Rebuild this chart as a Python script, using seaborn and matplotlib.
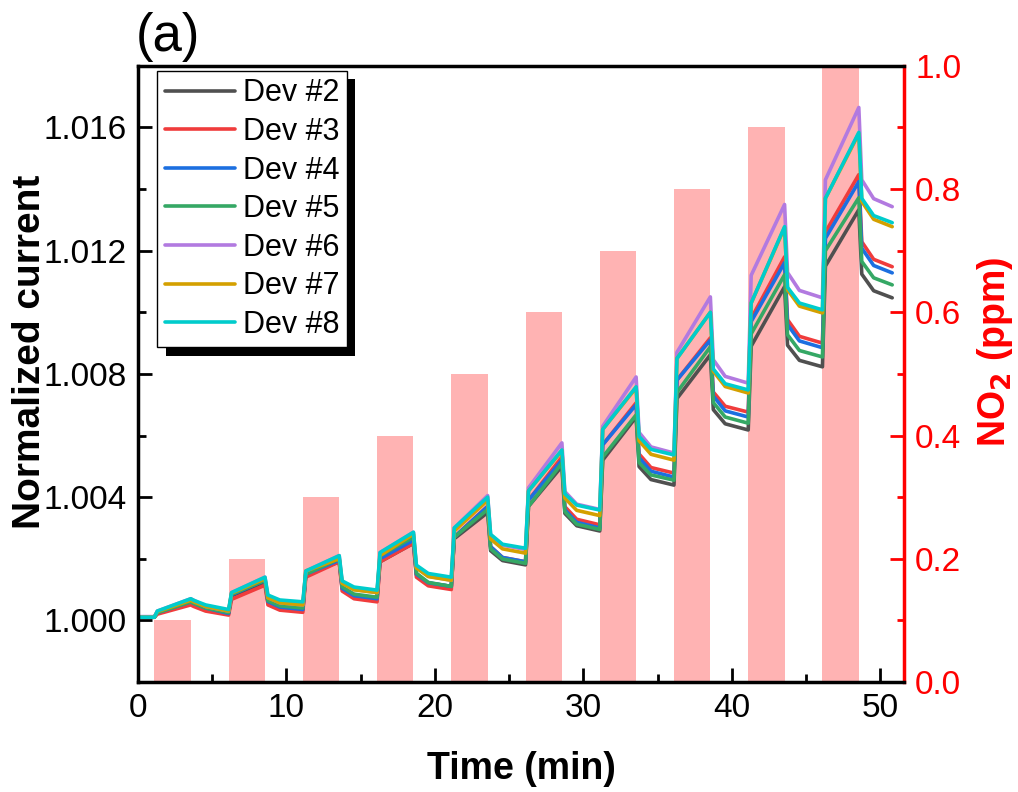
import numpy as np
import pandas as pd
import matplotlib
matplotlib.use("Agg")
import matplotlib.pyplot as plt
import matplotlib.patheffects as pe
from matplotlib.ticker import MultipleLocator, FormatStrFormatter
import seaborn as sns

# NO2 pulses: start / end of each exposure (min) and concentration (ppm)
expo_start = [1.1, 6.1, 11.1, 16.1, 21.1, 26.1, 31.1, 36.1, 41.1, 46.1]
expo_end = [3.55, 8.55, 13.55, 18.55, 23.55, 28.55, 33.55, 38.55, 43.55, 48.55]
no2_ppm = [0.1, 0.2, 0.3, 0.4, 0.5, 0.6, 0.7, 0.8, 0.9, 1.0]
t_last = 50.8

devices = ["Dev #2", "Dev #3", "Dev #4", "Dev #5", "Dev #6", "Dev #7", "Dev #8"]
colors = ["#505050", "#f03c3c", "#1c6fe0", "#35a865", "#b27ae0", "#d4a000", "#00cccc"]

# baseline before each pulse (+ value at the end of the run)
base = {
    "Dev #2": [1.0001, 1.00022, 1.00035, 1.0007, 1.0011, 1.0018, 1.0029, 1.00439, 1.00618, 1.00823, 1.01047],
    "Dev #3": [1.0001, 1.00017, 1.00026, 1.0006, 1.0010, 1.0019, 1.0031, 1.00478, 1.00676, 1.0090, 1.01148],
    "Dev #4": [1.0001, 1.00022, 1.00035, 1.0007, 1.0011, 1.0019, 1.0030, 1.00465, 1.0066, 1.00885, 1.01128],
    "Dev #5": [1.0001, 1.00025, 1.0004, 1.00075, 1.0011, 1.00185, 1.00295, 1.00455, 1.0064, 1.00855, 1.01089],
    "Dev #6": [1.00012, 1.0003, 1.0005, 1.0009, 1.0013, 1.0023, 1.0036, 1.00543, 1.0077, 1.01047, 1.01343],
    "Dev #7": [1.0001, 1.0003, 1.0005, 1.0009, 1.0013, 1.00218, 1.0034, 1.0052, 1.00738, 1.00998, 1.01278],
    "Dev #8": [1.0001, 1.00035, 1.0006, 1.00098, 1.0014, 1.00234, 1.00358, 1.00537, 1.00748, 1.01008, 1.01291],
}
# value just after the fast rise
jump = {
    "Dev #2": [1.00025, 1.0008, 1.0015, 1.0019, 1.00265, 1.0037, 1.0052, 1.0072, 1.0089, 1.0115],
    "Dev #3": [1.0002, 1.00068, 1.0014, 1.0019, 1.0027, 1.0039, 1.0057, 1.0078, 1.0098, 1.0126],
    "Dev #4": [1.00025, 1.00083, 1.0015, 1.0020, 1.0027, 1.0039, 1.0057, 1.0078, 1.0097, 1.0124],
    "Dev #5": [1.00025, 1.00085, 1.0015, 1.0021, 1.0027, 1.0037, 1.0053, 1.0074, 1.0093, 1.0120],
    "Dev #6": [1.0003, 1.0009, 1.0016, 1.0022, 1.0030, 1.0043, 1.0063, 1.0087, 1.0112, 1.0143],
    "Dev #7": [1.00028, 1.00088, 1.0016, 1.0021, 1.0029, 1.0042, 1.0062, 1.0085, 1.0103, 1.0137],
    "Dev #8": [1.0003, 1.0009, 1.0016, 1.0022, 1.0030, 1.0042, 1.0062, 1.0085, 1.0103, 1.0137],
}
# value at the end of each pulse
peak = {
    "Dev #2": [1.0006, 1.0012, 1.0019, 1.0025, 1.0035, 1.0050, 1.0066, 1.00862, 1.01083, 1.01333],
    "Dev #3": [1.0005, 1.00114, 1.0019, 1.0025, 1.0037, 1.0053, 1.00706, 1.00917, 1.0118, 1.01447],
    "Dev #4": [1.0006, 1.0013, 1.00195, 1.0026, 1.0037, 1.0052, 1.0070, 1.0091, 1.01161, 1.01424],
    "Dev #5": [1.0006, 1.0013, 1.0020, 1.0027, 1.0036, 1.0051, 1.00667, 1.00888, 1.01122, 1.01372],
    "Dev #6": [1.0007, 1.0014, 1.0021, 1.00286, 1.00405, 1.00576, 1.0079, 1.0105, 1.0135, 1.01665],
    "Dev #7": [1.00065, 1.00135, 1.0020, 1.0028, 1.0039, 1.0055, 1.00755, 1.0100, 1.01275, 1.0158],
    "Dev #8": [1.0007, 1.0014, 1.0021, 1.00286, 1.0040, 1.00553, 1.00758, 1.0100, 1.01278, 1.01584],
}
# value shortly after the gas is switched off
drop = {
    "Dev #2": [1.00055, 1.00058, 1.00102, 1.00148, 1.00226, 1.00347, 1.00499, 1.00684, 1.00893, 1.01124],
    "Dev #3": [1.00045, 1.0005, 1.00095, 1.0014, 1.00239, 1.00369, 1.0054, 1.00741, 1.00976, 1.01229],
    "Dev #4": [1.00055, 1.00061, 1.00104, 1.0015, 1.00239, 1.00359, 1.00528, 1.00728, 1.0096, 1.01208],
    "Dev #5": [1.00055, 1.00064, 1.00109, 1.00153, 1.00232, 1.00353, 1.00512, 1.00707, 1.00927, 1.01165],
    "Dev #6": [1.00065, 1.00074, 1.00122, 1.00172, 1.00277, 1.00418, 1.0061, 1.00846, 1.01129, 1.0143],
    "Dev #7": [1.0006, 1.00073, 1.0012, 1.0017, 1.00264, 1.00397, 1.00583, 1.00809, 1.01073, 1.0136],
    "Dev #8": [1.00065, 1.00082, 1.00128, 1.00179, 1.00279, 1.00411, 1.00597, 1.00816, 1.01081, 1.0137],
}
# value ~1 min after the gas is switched off
tail = {
    "Dev #2": [1.0004, 1.00042, 1.0008, 1.00121, 1.00194, 1.00307, 1.00457, 1.00638, 1.00844, 1.0107],
    "Dev #3": [1.0003, 1.00033, 1.0007, 1.00112, 1.00204, 1.00328, 1.00496, 1.00695, 1.00922, 1.01172],
    "Dev #4": [1.0004, 1.00043, 1.0008, 1.00122, 1.00204, 1.00318, 1.00484, 1.0068, 1.00907, 1.01152],
    "Dev #5": [1.0004, 1.00047, 1.00085, 1.00123, 1.00199, 1.00312, 1.00472, 1.0066, 1.00876, 1.01112],
    "Dev #6": [1.00045, 1.00057, 1.001, 1.00143, 1.00244, 1.00377, 1.00563, 1.00792, 1.01071, 1.01369],
    "Dev #7": [1.00045, 1.00057, 1.00099, 1.00142, 1.00232, 1.00357, 1.00539, 1.00759, 1.0102, 1.01302],
    "Dev #8": [1.0005, 1.00066, 1.00108, 1.00152, 1.00247, 1.00374, 1.00555, 1.00768, 1.0103, 1.01314],
}

rows = []
for dev in devices:
    rows.append((dev, 0.0, base[dev][0]))
    for k in range(len(expo_start)):
        ts, te = expo_start[k], expo_end[k]
        rows.append((dev, ts, base[dev][k]))
        rows.append((dev, ts + 0.2, jump[dev][k]))
        rows.append((dev, te, peak[dev][k]))
        rows.append((dev, te + 0.2, drop[dev][k]))
        rows.append((dev, te + 1.0, tail[dev][k]))
    rows.append((dev, t_last, base[dev][-1]))
df = pd.DataFrame(rows, columns=["device", "time", "current"])

sns.set_style("ticks")
plt.rcParams["font.family"] = ["Liberation Sans", "DejaVu Sans"]
plt.rcParams["text.color"] = "black"
plt.rcParams["axes.labelcolor"] = "black"
plt.rcParams["xtick.color"] = "black"
plt.rcParams["ytick.color"] = "black"

fig = plt.figure(figsize=(10.18, 7.92), dpi=100)
ax = fig.add_axes([0.1356, 0.139, 0.7525, 0.7778])
ax2 = ax.twinx()

# NO2 pulses as bars on the right axis
ax2.bar(expo_start, no2_ppm, width=np.array(expo_end) - np.array(expo_start),
        align="edge", color="#ffb3b3", edgecolor="none")
ax2.set_ylim(0, 1.0)

sns.lineplot(data=df, x="time", y="current", hue="device", hue_order=devices,
             palette=colors, linewidth=2.6, estimator=None, ax=ax)

# lines above the bars
ax.set_zorder(ax2.get_zorder() + 1)
ax.patch.set_visible(False)

ax.set_xlim(0, 51.6)
ax.set_ylim(0.998, 1.018)
ax.xaxis.set_major_locator(MultipleLocator(10))
ax.xaxis.set_minor_locator(MultipleLocator(5))
ax.yaxis.set_major_locator(MultipleLocator(0.004))
ax.yaxis.set_minor_locator(MultipleLocator(0.002))
ax.yaxis.set_major_formatter(FormatStrFormatter("%.3f"))
ax.tick_params(which="both", direction="in", width=2, labelsize=24, top=False, right=False,
               colors="black")
ax.tick_params(which="major", length=10, pad=8)
ax.tick_params(which="minor", length=6)

ax2.yaxis.set_major_locator(MultipleLocator(0.2))
ax2.yaxis.set_minor_locator(MultipleLocator(0.1))
ax2.yaxis.set_major_formatter(FormatStrFormatter("%.1f"))
ax2.tick_params(which="both", direction="in", width=2, colors="red", labelsize=24)
ax2.tick_params(which="major", length=10, pad=8)
ax2.tick_params(which="minor", length=5)

for s in ["left", "bottom", "top"]:
    ax.spines[s].set_linewidth(2.5)
    ax.spines[s].set_color("black")
    ax2.spines[s].set_visible(False)
ax2.spines["right"].set_color("red")
ax2.spines["right"].set_linewidth(2.5)
ax.spines["right"].set_visible(False)

ax.set_xlabel("Time (min)", fontsize=27, fontweight="bold")
ax.xaxis.set_label_coords(0.5, -0.112)
ax.set_ylabel("Normalized current", fontsize=28, fontweight="bold")
ax.yaxis.set_label_coords(-0.117, 0.536)
ax2.set_ylabel("NO$_\\mathbf{2}$ (ppm)", fontsize=27, fontweight="bold", color="red")
ax2.yaxis.set_label_coords(1.092, 0.536)

leg = ax.legend(loc="upper left", bbox_to_anchor=(0.025, 0.992), fontsize=22, frameon=True,
                fancybox=False, edgecolor="black", facecolor="white", framealpha=1.0,
                handlelength=2.3, handletextpad=0.25, labelspacing=0.28, borderpad=0.25,
                borderaxespad=0)
leg.get_frame().set_linewidth(1.0)
leg.get_frame().set_path_effects([pe.withSimplePatchShadow(offset=(6, -6), shadow_rgbFace="black", alpha=1.0)])
for line in leg.get_lines():
    line.set_linewidth(2.6)

fig.text(0.133, 0.935, "(a)", fontsize=38, va="baseline", ha="left")

fig.savefig("out.png", dpi=100)
